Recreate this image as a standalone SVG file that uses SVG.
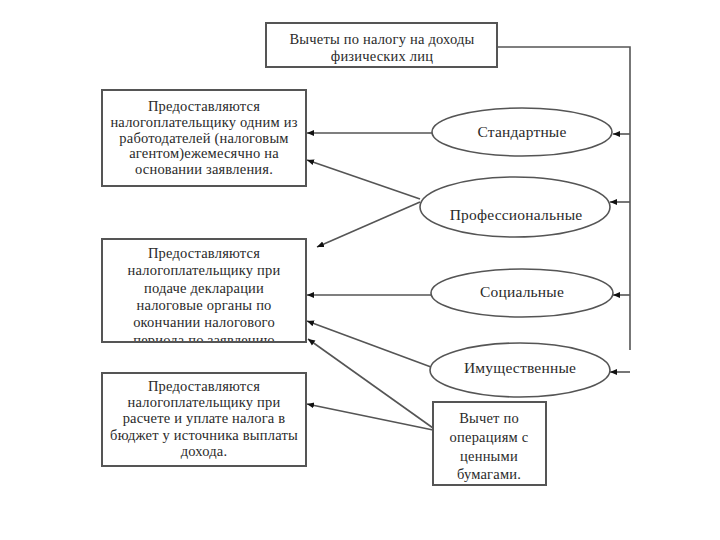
<svg xmlns="http://www.w3.org/2000/svg" width="720" height="540" viewBox="0 0 720 540">
  <style>
    .box { fill: #ffffff; stroke: #555555; stroke-width: 2; }
    .ell { fill: #ffffff; stroke: #555555; stroke-width: 1.6; }
    .txt { font-family: "Liberation Serif", "Times New Roman", serif; font-size: 14.5px; letter-spacing: 0.2px; fill: #2a2a2a; text-anchor: middle; dominant-baseline: central; }
    .lbl { font-size: 15.5px; }
    .ln { fill: none; stroke: #555555; stroke-width: 1.6; }
    .arr { fill: none; stroke: #555555; stroke-width: 1.6; marker-end: url(#ah); }
  </style>
  <defs>
    <marker id="ah" markerWidth="8" markerHeight="8" refX="7" refY="4" orient="auto" markerUnits="userSpaceOnUse">
      <path d="M0,1 L7,4 L0,7 Z" fill="#111111"/>
    </marker>
    <clipPath id="clip2">
      <rect x="103" y="240" width="202" height="101"/>
    </clipPath>
  </defs>
  <rect width="720" height="540" fill="#ffffff"/>

  <g id="connectors">
    <polyline class="ln" points="497,47 630,47 630,350"/>
    <line class="arr" x1="630" y1="134" x2="613" y2="134"/>
    <line class="arr" x1="630" y1="202" x2="610" y2="202"/>
    <line class="arr" x1="630" y1="295" x2="613" y2="295"/>
    <line class="arr" x1="630" y1="372" x2="610" y2="372"/>
    <line class="arr" x1="432" y1="133" x2="307" y2="133"/>
    <line class="arr" x1="420" y1="199" x2="307" y2="160"/>
    <line class="arr" x1="420" y1="202" x2="317" y2="247"/>
    <line class="arr" x1="431" y1="295" x2="307" y2="295"/>
    <line class="arr" x1="431" y1="367" x2="307" y2="321"/>
    <line class="arr" x1="433" y1="428" x2="308" y2="339"/>
    <line class="arr" x1="433" y1="430" x2="307" y2="404"/>
  </g>

  <g id="root">
    <rect class="box" x="266" y="23" width="231" height="44"/>
    <text class="txt" x="382" y="39">Вычеты по налогу на доходы</text>
    <text class="txt" x="382" y="56">физических лиц</text>
  </g>

  <g id="standard">
    <ellipse class="ell" cx="522" cy="132" rx="90" ry="24"/>
    <text class="txt lbl" x="522" y="131">Стандартные</text>
  </g>
  <g id="professional">
    <ellipse class="ell" cx="515" cy="207" rx="95" ry="30"/>
    <text class="txt lbl" x="516" y="214">Профессиональные</text>
  </g>
  <g id="social">
    <ellipse class="ell" cx="522" cy="293" rx="91" ry="24"/>
    <text class="txt lbl" x="522" y="291">Социальные</text>
  </g>
  <g id="property">
    <ellipse class="ell" cx="520" cy="370" rx="90" ry="27"/>
    <text class="txt lbl" x="520" y="367">Имущественные</text>
  </g>

  <g id="securities">
    <rect class="box" x="433" y="402" width="113" height="83"/>
    <text class="txt" x="489" y="418">Вычет по</text>
    <text class="txt" x="489" y="437">операциям с</text>
    <text class="txt" x="489" y="456">ценными</text>
    <text class="txt" x="489" y="474">бумагами.</text>
  </g>

  <g id="employer">
    <rect class="box" x="102" y="90" width="204" height="96"/>
    <text class="txt" x="204" y="106">Предоставляются</text>
    <text class="txt" x="204" y="122">налогоплательщику одним из</text>
    <text class="txt" x="204" y="138">работодателей (налоговым</text>
    <text class="txt" x="204" y="153">агентом)ежемесячно на</text>
    <text class="txt" x="204" y="169">основании заявления.</text>
  </g>

  <g id="declaration">
    <rect class="box" x="102" y="239" width="204" height="103"/>
    <g clip-path="url(#clip2)">
      <text class="txt" x="204" y="253">Предоставляются</text>
      <text class="txt" x="204" y="270">налогоплательщику при</text>
      <text class="txt" x="204" y="288">подаче декларации</text>
      <text class="txt" x="204" y="305">налоговые органы по</text>
      <text class="txt" x="204" y="322">окончании налогового</text>
      <text class="txt" x="204" y="340">периода по заявлению</text>
    </g>
  </g>

  <g id="payment">
    <rect class="box" x="102" y="373" width="204" height="93"/>
    <text class="txt" x="204" y="386">Предоставляются</text>
    <text class="txt" x="204" y="402">налогоплательщику при</text>
    <text class="txt" x="204" y="418">расчете и уплате налога в</text>
    <text class="txt" x="204" y="435">бюджет у источника выплаты</text>
    <text class="txt" x="204" y="451">дохода.</text>
  </g>
</svg>
